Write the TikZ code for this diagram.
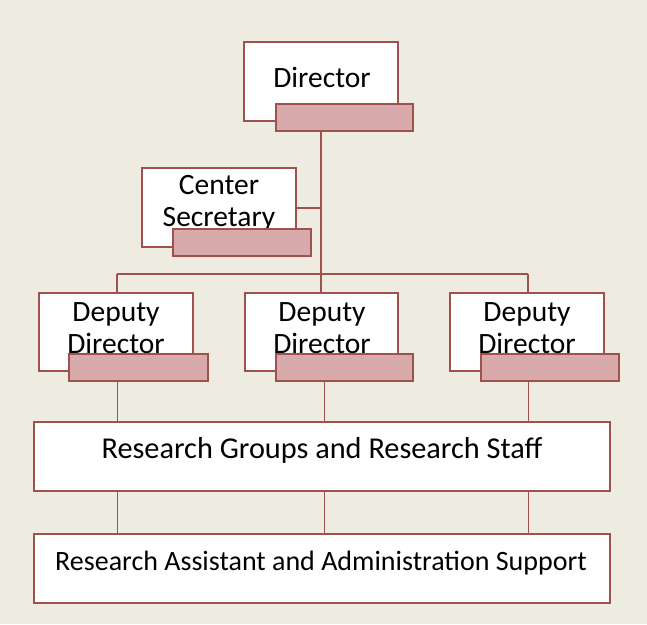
\documentclass[tikz,border=0pt]{standalone}
\usepackage{fontspec}
\setmainfont{Carlito}
\definecolor{bg}{HTML}{EEEBE1}
\definecolor{bord}{HTML}{A0504D}
\definecolor{pinkf}{HTML}{D8AAAB}
\tikzset{
  orgbox/.style={draw=bord, line width=2pt, fill=white},
  tab/.style={draw=bord, line width=2pt, fill=pinkf},
  thick conn/.style={draw=bord, line width=2pt},
  thin conn/.style={draw=bord, line width=1pt},
  lbl/.style={font=\fontsize{29.5}{32}\selectfont, align=center, inner sep=0pt},
}
\begin{document}
\begin{tikzpicture}[x=1pt,y=-1pt]
\fill[bg] (0,0) rectangle (647,624);
\useasboundingbox (0,0) rectangle (647,624);
% white boxes
\draw[orgbox] (244,42) rectangle (398,121);
\draw[orgbox] (142,168) rectangle (296,247);
\coordinate (secR) at (296,208);
\draw[orgbox] (39,293) rectangle (193,371);
\draw[orgbox] (245,293) rectangle (398,371);
\draw[orgbox] (450,293) rectangle (604,371);
% text
\node[lbl] (tdir) at (322,77) {Director};
\node[lbl] (tsec) at (219,203) {Center\\Secretary};
\node[lbl] (td1) at (116,328.5) {Deputy\\Director};
\node[lbl] (td2) at (322,328.5) {Deputy\\Director};
\node[lbl] (td3) at (527,328.5) {Deputy\\Director};
% pink tabs
\draw[tab] (276,104) rectangle (413,131);
\coordinate (dirB) at (321,131);
\draw[tab] (173,229) rectangle (311,256);
\draw[tab] (69,354) rectangle (208,381);
\draw[tab] (276,354) rectangle (413,381);
\draw[tab] (481,354) rectangle (619,381);
% coordinates
\coordinate (bus) at (321,274);
\coordinate (busL) at (117,274);
\coordinate (busR) at (528,274);
\coordinate (secJ) at (321,208);
\coordinate (d1T) at (117,293);
\coordinate (d2T) at (321,293);
\coordinate (d3T) at (528,293);
% connectors
\draw[thick conn] (dirB) -- (bus);
\draw[thick conn] (secR) -- (secJ);
\draw[thick conn] (busL) -- (busR);
\draw[thick conn] (busL) -- (d1T);
\draw[thick conn] (bus) -- (d2T);
\draw[thick conn] (busR) -- (d3T);
% lower boxes
\draw[orgbox] (34,422) rectangle (610,491);
\draw[orgbox] (34,534) rectangle (610,603);
\coordinate (rgN) at (322,422);
\coordinate (rgS) at (322,491);
\coordinate (raN) at (322,534);
\node[lbl, font=\fontsize{30.3}{32}\selectfont] (rg) at (322,450) {Research Groups and Research Staff};
\node[lbl, font=\fontsize{28}{32}\selectfont] (ra) at (321,563) {Research Assistant and Administration Support};
\coordinate (t1B) at (117,381);
\coordinate (t2B) at (324,381);
\coordinate (t3B) at (528,381);
\draw[thin conn] (t1B) -- (t1B |- rgN);
\draw[thin conn] (t2B) -- (t2B |- rgN);
\draw[thin conn] (t3B) -- (t3B |- rgN);
\draw[thin conn] (t1B |- rgS) -- (t1B |- raN);
\draw[thin conn] (t2B |- rgS) -- (t2B |- raN);
\draw[thin conn] (t3B |- rgS) -- (t3B |- raN);
\end{tikzpicture}
\end{document}
